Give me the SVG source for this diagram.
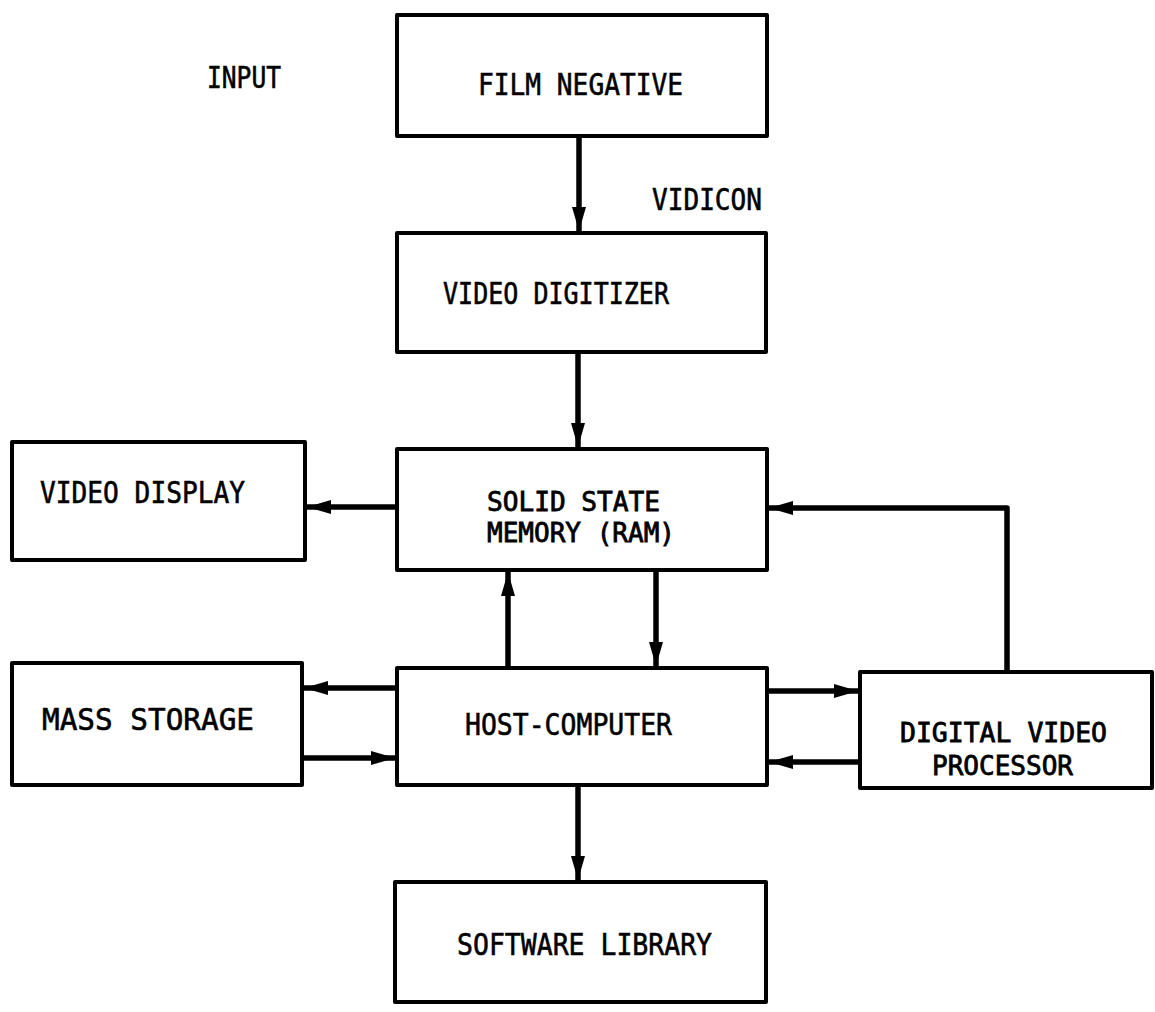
<svg xmlns="http://www.w3.org/2000/svg" width="1155" height="1012" viewBox="0 0 1155 1012">
<defs>
<style>
.box{fill:#fff;stroke:#000;stroke-width:4;stroke-linejoin:round}
.c{fill:none;stroke:#000;stroke-width:5.5;stroke-linejoin:round}
text{font-family:"DejaVu Sans Mono","Liberation Mono",monospace;font-size:30px;fill:#000;stroke:#000;stroke-width:0.6}
.two{font-size:26px;stroke-width:0.8}
</style>
<marker id="ah" markerUnits="userSpaceOnUse" markerWidth="26" markerHeight="16" refX="24" refY="8" orient="auto">
<path d="M0,1 L24,8 L0,15 z" fill="#000"/>
</marker>
</defs>
<rect width="1155" height="1012" fill="#fff"/>
<g id="connectors">
<path class="c" d="M579,138 V231" marker-end="url(#ah)"/>
<path class="c" d="M578,354 V447" marker-end="url(#ah)"/>
<path class="c" d="M395,507 H307" marker-end="url(#ah)"/>
<path class="c" d="M1007,670 V508 H769" marker-end="url(#ah)"/>
<path class="c" d="M508,666 V572" marker-end="url(#ah)"/>
<path class="c" d="M656,572 V666" marker-end="url(#ah)"/>
<path class="c" d="M395,688 H304" marker-end="url(#ah)"/>
<path class="c" d="M304,758 H395" marker-end="url(#ah)"/>
<path class="c" d="M769,691 H858" marker-end="url(#ah)"/>
<path class="c" d="M858,762 H769" marker-end="url(#ah)"/>
<path class="c" d="M578,787 V880" marker-end="url(#ah)"/>
</g>
<g id="input-label"><text x="207" y="88" textLength="74" lengthAdjust="spacingAndGlyphs">INPUT</text></g>
<g id="vidicon-label"><text x="652" y="210" textLength="110" lengthAdjust="spacingAndGlyphs">VIDICON</text></g>
<g id="film-negative">
<rect class="box" x="397" y="15" width="370" height="121"/>
<text x="478" y="95" textLength="205" lengthAdjust="spacingAndGlyphs">FILM NEGATIVE</text>
</g>
<g id="video-digitizer">
<rect class="box" x="397" y="233" width="369" height="119"/>
<text x="443" y="304" textLength="226" lengthAdjust="spacingAndGlyphs">VIDEO DIGITIZER</text>
</g>
<g id="solid-state-memory">
<rect class="box" x="397" y="449" width="370" height="121"/>
<text class="two" x="487" y="511" textLength="173" lengthAdjust="spacingAndGlyphs">SOLID STATE</text>
<text class="two" x="487" y="542" textLength="188" lengthAdjust="spacingAndGlyphs">MEMORY (RAM)</text>
</g>
<g id="video-display">
<rect class="box" x="12" y="442" width="293" height="118"/>
<text x="40" y="503" textLength="205" lengthAdjust="spacingAndGlyphs">VIDEO DISPLAY</text>
</g>
<g id="mass-storage">
<rect class="box" x="12" y="663" width="290" height="122"/>
<text x="42" y="730" textLength="212" lengthAdjust="spacingAndGlyphs">MASS STORAGE</text>
</g>
<g id="host-computer">
<rect class="box" x="397" y="668" width="370" height="117"/>
<text x="465" y="735" textLength="207" lengthAdjust="spacingAndGlyphs">HOST-COMPUTER</text>
</g>
<g id="digital-video-processor">
<rect class="box" x="860" y="672" width="292" height="116"/>
<text class="two" x="900" y="742" textLength="207" lengthAdjust="spacingAndGlyphs">DIGITAL VIDEO</text>
<text class="two" x="932" y="775" textLength="141" lengthAdjust="spacingAndGlyphs">PROCESSOR</text>
</g>
<g id="software-library">
<rect class="box" x="395" y="882" width="371" height="120"/>
<text x="457" y="955" textLength="255" lengthAdjust="spacingAndGlyphs">SOFTWARE LIBRARY</text>
</g>
</svg>
